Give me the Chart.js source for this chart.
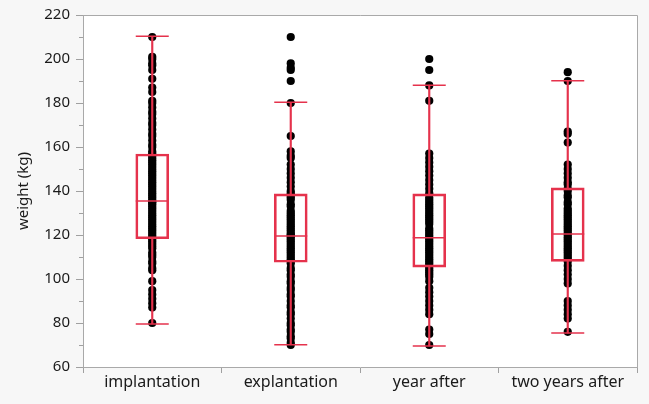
<!DOCTYPE html>
<html><head><meta charset="utf-8">
<script src="https://cdn.jsdelivr.net/npm/chart.js@4.4.1/dist/chart.umd.min.js"></script>
<style>html,body{margin:0;padding:0;background:#f7f7f7;}#wrap{width:649px;height:404px;}</style>
</head><body><div id="wrap"><canvas id="c" width="649" height="404"></canvas></div>
<script>
const categories = ['implantation', 'explantation', 'year after', 'two years after'];

const implantation = [210, 201, 200, 198, 197, 195, 191, 187, 185, 181, 180, 178, 176, 175, 173, 171, 170, 168, 166, 165, 163, 161, 160, 158, 157, 156, 155, 154, 153, 152, 151, 150, 149, 148, 147, 146, 145, 144, 143, 142, 141, 140, 139, 138, 137, 136, 135, 135, 134, 133, 132, 131, 130, 129, 128, 127, 126, 125, 124, 123, 122, 121, 120, 119, 118, 117, 116, 115, 114, 112, 111, 110, 108, 107, 105, 104, 99, 95, 93, 91, 89, 87, 80];
const explantation = [210, 198, 196, 195, 190, 180, 165, 158, 156, 155, 152, 150, 148, 146, 144, 142, 140, 139, 138, 137, 136, 134, 133, 131, 130, 129, 128, 127, 126, 125, 124, 123, 122, 121, 120, 120, 119, 118, 117, 116, 115, 114, 113, 112, 111, 110, 109, 108, 107, 105, 104, 102, 101, 99, 98, 96, 95, 93, 92, 90, 88, 87, 85, 84, 82, 80, 79, 77, 76, 74, 73, 71, 70];
const yearAfter = [200, 195, 188, 181, 157, 155, 153, 151, 149, 147, 145, 143, 141, 139, 137, 136, 135, 134, 133, 132, 131, 130, 129, 128, 127, 126, 125, 123, 122, 121, 120, 119, 118, 117, 116, 115, 114, 113, 112, 111, 110, 109, 108, 107, 106, 105, 104, 103, 102, 101, 99, 96, 94, 92, 90, 88, 86, 84, 77, 75, 70];
const twoYearsAfter = [194, 190, 167, 166, 162, 152, 150, 148, 146, 144, 143, 141, 140, 138, 137, 135, 134, 132, 131, 130, 129, 128, 127, 126, 125, 124, 123, 122, 121, 120, 119, 118, 117, 116, 115, 114, 113, 112, 111, 110, 109, 108, 106, 104, 102, 100, 98, 90, 88, 86, 84, 82, 76];

const q1 = [118.3, 107.6, 105.4, 108.0];
const medians = [135.4, 119.5, 118.8, 120.4];
const q3 = [156.8, 138.7, 138.7, 141.4];
const whiskerLow = [79.6, 70.1, 69.6, 75.4];
const whiskerHigh = [210.3, 180.3, 188.1, 190.1];

const yTicks = [60, 80, 100, 120, 140, 160, 180, 200, 220];
const yTitle = 'weight (kg)';

const RED = '#e5324c';
const groups = [implantation, explantation, yearAfter, twoYearsAfter];
const pointData = [];
groups.forEach((g, i) => g.forEach(v => pointData.push({x: categories[i], y: v})));

const extras = {
  id: 'extras',
  beforeDraw(chart) {
    const {ctx, chartArea: a} = chart;
    ctx.save();
    ctx.fillStyle = '#ffffff';
    ctx.fillRect(a.left, a.top, a.right - a.left, a.bottom - a.top);
    ctx.restore();
  },
  afterDatasetsDraw(chart) {
    const {ctx, scales: {x, y}} = chart;
    ctx.save();
    ctx.strokeStyle = RED;
    ctx.lineWidth = 1.5;
    const half = 16.5;
    categories.forEach((c, i) => {
      const cx = x.getPixelForValue(i);
      [whiskerLow[i], whiskerHigh[i], medians[i]].forEach(v => {
        const py = y.getPixelForValue(v);
        ctx.beginPath();
        ctx.moveTo(cx - half, py);
        ctx.lineTo(cx + half, py);
        ctx.stroke();
      });
    });
    ctx.restore();
  },
  afterDraw(chart) {
    const {ctx, chartArea: a, scales: {y}} = chart;
    ctx.save();
    ctx.strokeStyle = '#a9a9a9';
    ctx.lineWidth = 1;
    ctx.beginPath();
    ctx.moveTo(a.left, a.top + 0.5);
    ctx.lineTo(a.right + 0.5, a.top + 0.5);
    ctx.lineTo(a.right + 0.5, a.bottom);
    ctx.stroke();
    ctx.strokeStyle = '#a0a0a0';
    for (let i = 0; i < yTicks.length - 1; i++) {
      const py = Math.round(y.getPixelForValue((yTicks[i] + yTicks[i + 1]) / 2)) + 0.5;
      ctx.beginPath();
      ctx.moveTo(a.left - 4, py);
      ctx.lineTo(a.left, py);
      ctx.stroke();
    }
    ctx.restore();
  }
};

const FONT = "'Noto Sans', 'Open Sans', sans-serif";

new Chart(document.getElementById('c'), {
  type: 'bar',
  data: {
    labels: categories,
    datasets: [
      {
        type: 'bar', label: 'box', data: categories.map((c, i) => [q1[i], q3[i]]),
        backgroundColor: 'rgba(0,0,0,0)', borderColor: RED, borderWidth: 2, borderSkipped: false,
        barThickness: 33, grouped: false, order: 1
      },
      {
        type: 'bar', label: 'lower whisker', data: categories.map((c, i) => [whiskerLow[i], q1[i]]),
        backgroundColor: RED, borderWidth: 0, barThickness: 1.5, grouped: false, order: 1
      },
      {
        type: 'bar', label: 'upper whisker', data: categories.map((c, i) => [q3[i], whiskerHigh[i]]),
        backgroundColor: RED, borderWidth: 0, barThickness: 1.5, grouped: false, order: 1
      },
      {
        type: 'line', label: 'points', data: pointData, showLine: false,
        pointRadius: 4.1, pointBorderWidth: 0, pointBackgroundColor: '#000', pointBorderColor: '#000',
        order: 2
      }
    ]
  },
  options: {
    responsive: false, animation: false, devicePixelRatio: 1,
    layout: {padding: {top: 13, right: 12, left: 0, bottom: 0}},
    plugins: {legend: {display: false}, tooltip: {enabled: false}},
    scales: {
      x: {
        type: 'category', offset: true,
        grid: {offset: true, drawOnChartArea: false, tickLength: 6, color: '#a0a0a0'},
        border: {color: '#a9a9a9'},
        ticks: {font: {family: FONT, size: 16}, color: '#1a1a1a', padding: 0, maxRotation: 0},
        afterFit: s => { s.height = 37; }
      },
      y: {
        type: 'linear', min: 60, max: 220,
        afterBuildTicks: s => { s.ticks = yTicks.map(v => ({value: v})); },
        grid: {drawOnChartArea: false, tickLength: 7, color: '#a0a0a0'},
        border: {color: '#a9a9a9'},
        ticks: {font: {family: FONT, size: 15}, color: '#1a1a1a', padding: 6},
        title: {display: true, text: yTitle, font: {family: FONT, size: 15}, color: '#1a1a1a', padding: {top: 15, bottom: 0}},
        afterFit: s => { s.width = 83; }
      }
    }
  },
  plugins: [extras]
});
</script>
</body></html>
